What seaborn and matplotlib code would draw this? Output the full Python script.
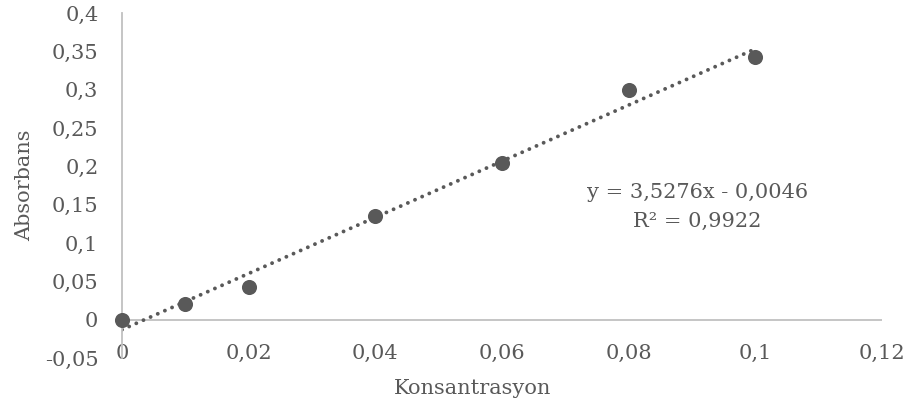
import numpy as np
import pandas as pd
import seaborn as sns
import matplotlib.pyplot as plt
from matplotlib.ticker import FuncFormatter, MultipleLocator

konsantrasyon = [0, 0.01, 0.02, 0.04, 0.06, 0.08, 0.1]
absorbans = [0, 0.021, 0.042, 0.135, 0.204, 0.300, 0.342]
denklem = "y = 3,5276x - 0,0046"
r_kare = "R² = 0,9922"

gri = "#595959"
eksen_gri = "#c0c0c0"

sns.set_style("white")
plt.rcParams['font.family'] = ['DejaVu Serif']
plt.rc('font', size=15)

df = pd.DataFrame({'Konsantrasyon': konsantrasyon, 'Absorbans': absorbans})

fig = plt.figure(figsize=(9.09, 4.11), dpi=100)
ax = fig.add_axes([122/909, 1 - 358/411, 760/909, 345/411])

# trend cizgisi (noktali)
sns.regplot(data=df, x='Konsantrasyon', y='Absorbans', scatter=False, ci=None,
            ax=ax, line_kws=dict(color=gri, lw=2.8, linestyle=(0, (0.01, 2.0)),
                                 dash_capstyle='round'))
sns.scatterplot(data=df, x='Konsantrasyon', y='Absorbans', ax=ax, color=gri,
                s=118, linewidth=0, clip_on=False, zorder=5)

ax.set_xlim(0, 0.12)
ax.set_ylim(-0.05, 0.4)
ax.xaxis.set_major_locator(MultipleLocator(0.02))
ax.yaxis.set_major_locator(MultipleLocator(0.05))

virgul = FuncFormatter(lambda v, p: f"{round(v, 4):g}".replace('.', ','))
ax.xaxis.set_major_formatter(virgul)
ax.yaxis.set_major_formatter(virgul)

for s in ['top', 'right', 'bottom']:
    ax.spines[s].set_visible(False)
ax.spines['left'].set_color(eksen_gri)
ax.spines['left'].set_linewidth(1.3)
ax.axhline(0, color=eksen_gri, lw=1.3, zorder=1)

ax.tick_params(axis='x', length=0, pad=-10, colors=gri, labelsize=15)
ax.tick_params(axis='y', length=0, pad=17, colors=gri, labelsize=15)

ax.set_xlabel('Konsantrasyon', color=gri, fontsize=15)
ax.set_ylabel('Absorbans', color=gri, fontsize=15)
ax.xaxis.set_label_coords((473 - 122) / 760, -(379 - 358) / 345)
ax.yaxis.set_label_coords(-(122 - 34) / 760, 0.5)

ax.text(0.0908, 0.1654, denklem, ha='center', va='center', color=gri, fontsize=15)
ax.text(0.0908, 0.1276, r_kare, ha='center', va='center', color=gri, fontsize=15)

fig.savefig('out.png', dpi=100)
